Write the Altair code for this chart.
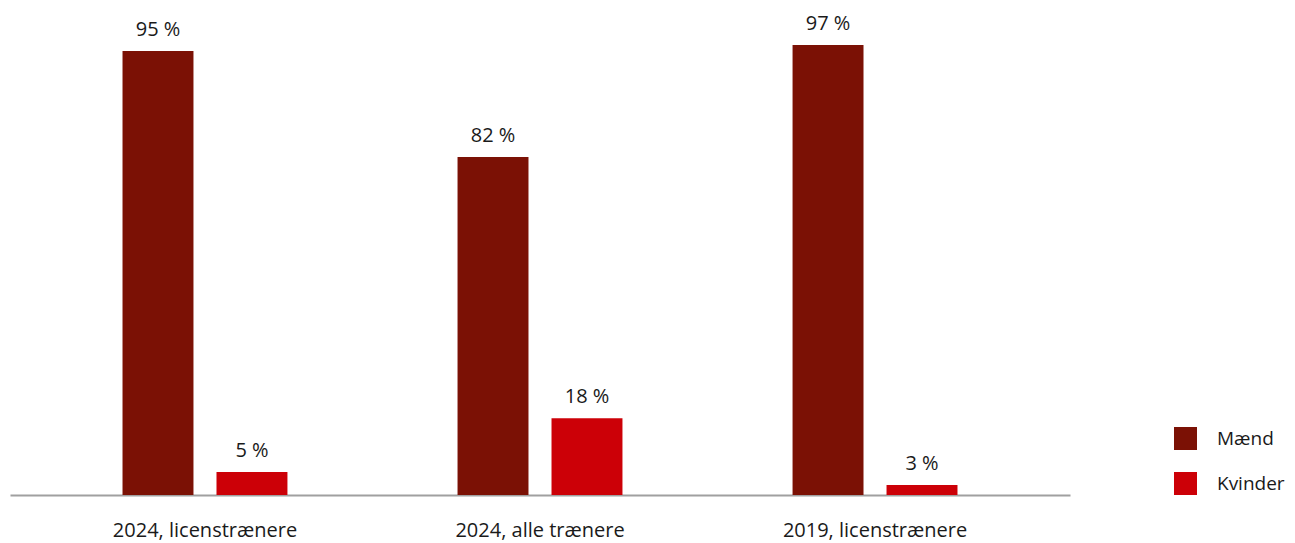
import altair as alt
import pandas as pd

categories = ["2024, licenstrænere", "2024, alle trænere", "2019, licenstrænere"]
series = ["Mænd", "Kvinder"]
# bar heights as drawn
maend_values = [96.5, 73.5, 97.8]
kvinder_values = [5.0, 16.7, 2.2]
# printed value labels
maend_labels = ["95 %", "82 %", "97 %"]
kvinder_labels = ["5 %", "18 %", "3 %"]
colors = ["#7b1105", "#cc0007"]

rows = []
for i, c in enumerate(categories):
    rows.append({"kategori": c, "køn": series[0], "værdi": maend_values[i], "label": maend_labels[i]})
    rows.append({"kategori": c, "køn": series[1], "værdi": kvinder_values[i], "label": kvinder_labels[i]})
df = pd.DataFrame(rows)

FONT = "Open Sans"

x = alt.X("kategori:N", sort=categories, title=None,
          scale=alt.Scale(paddingInner=0, paddingOuter=0.082),
          axis=alt.Axis(labelAngle=0, labelFontSize=20, labelFont=FONT, labelColor="#1a1a1a",
                        labelLimit=400, ticks=False, domainColor="#a0a0a0", domainWidth=2,
                        labelPadding=25))
xo = alt.XOffset("køn:N", sort=series,
                 scale=alt.Scale(paddingInner=0.245, paddingOuter=0.905))
y = alt.Y("værdi:Q", scale=alt.Scale(domain=[0, 100], nice=False), axis=None)

bars = alt.Chart(df).mark_bar().encode(
    x=x, xOffset=xo, y=y,
    color=alt.Color("køn:N", sort=series,
                    scale=alt.Scale(domain=series, range=colors),
                    legend=alt.Legend(title=None, orient="none", legendX=1164, legendY=392,
                                      symbolType="square", symbolSize=529, symbolStrokeWidth=0,
                                      symbolOpacity=1, labelLimit=200,
                                      labelFontSize=19, labelFont=FONT, labelColor="#1a1a1a",
                                      labelOffset=20, rowPadding=22, padding=0)),
)

text = alt.Chart(df).mark_text(baseline="alphabetic", dy=-15, fontSize=20, font=FONT,
                               color="#1a1a1a").encode(
    x=x, xOffset=xo, y=y, text="label:N"
)

chart = (bars + text).properties(
    width=1060, height=460,
    padding={"left": 2, "top": 27, "right": 217, "bottom": 48},
    autosize=alt.AutoSizeParams(type="none"),
).configure_view(stroke=None)

chart.save("out.html", embed_options={"renderer": "svg", "actions": False})
